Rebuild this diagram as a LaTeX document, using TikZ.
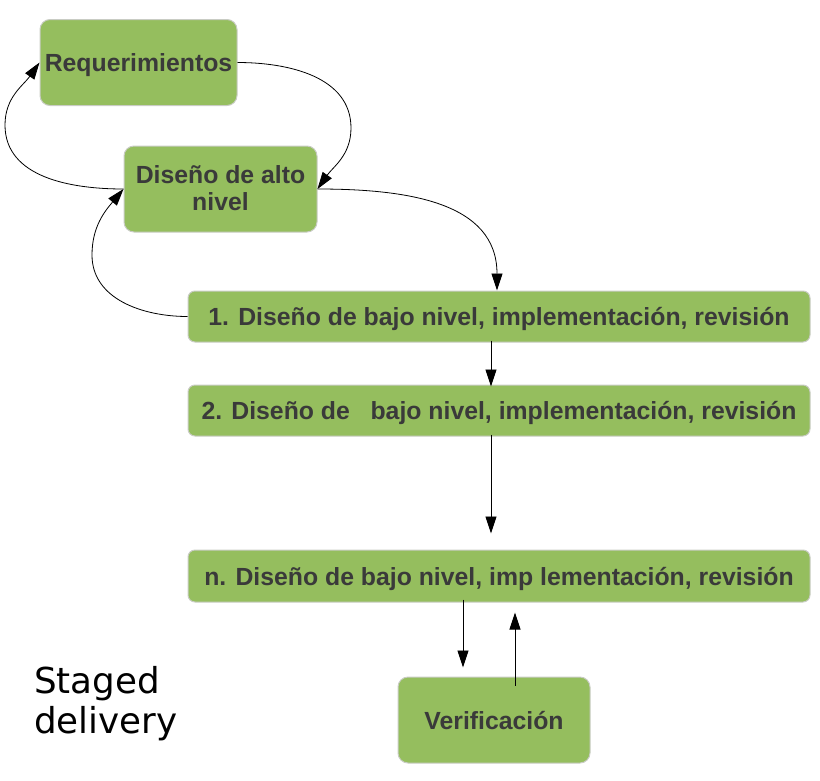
\documentclass[tikz,border=0pt]{standalone}
\usepackage{fontspec}
\setmainfont{Liberation Sans}
\newfontfamily\dejavu{DejaVu Sans}
\usetikzlibrary{arrows.meta}
\definecolor{boxgreen}{HTML}{95BE5E}
\definecolor{boxedge}{HTML}{C9CCC4}
\definecolor{boxtext}{HTML}{3A3A3A}
\tikzset{
  gbox/.style={draw=boxedge, line width=1pt, fill=boxgreen, rounded corners=10pt,
    text=boxtext, font=\fontsize{24.8}{27.4}\selectfont\bfseries, align=center, inner sep=0pt,
    text height=18pt, text depth=0pt},
  arr/.style={draw=black, line width=0.8pt, -{Triangle[length=17pt,width=11pt]}},
}
\begin{document}
\begin{tikzpicture}[x=1pt,y=-1pt]
\useasboundingbox (0,0) rectangle (820,780);
\node[gbox, minimum width=197pt, minimum height=86pt] (req) at (138.5,62.5) {Requerimientos};
\node[gbox, minimum width=193pt, minimum height=86pt, text height=43.4pt] (alto) at (220.5,189) {Diseño de alto\\nivel};
\node[gbox, minimum width=622pt, minimum height=51pt, rounded corners=7pt] (b1) at (499,316.5) {1. Diseño de bajo nivel, implementación, revisión};
\node[gbox, minimum width=622pt, minimum height=51pt, rounded corners=7pt] (b2) at (499,410.5) {2. Diseño de\ \ \ bajo nivel, implementación, revisión};
\node[gbox, minimum width=622pt, minimum height=52pt, rounded corners=7pt] (bn) at (499,576) {n. Diseño de bajo nivel, imp lementación, revisión};
\node[gbox, minimum width=192pt, minimum height=86pt] (ver) at (494,720) {Verificación};
\node[anchor=base west, align=left, inner sep=0pt, font=\dejavu\fontsize{35.7}{40}\selectfont] (sd) at (34,733) {Staged\\delivery};

\coordinate (w1) at (351,128);
\coordinate (w2) at (5,125);
\coordinate (w3) at (92,255);
\draw[arr] (req.east) to[out=0,in=90] (w1) to[out=-90,in=55] (alto.east);
\draw[arr] (alto.west) to[out=180,in=-90] (w2) to[out=90,in=235] (req.west);
\draw[arr] (alto.east) to[out=0,in=90,looseness=1.1] ([xshift=-2pt]b1.north);
\draw[arr] (b1.west) to[out=180,in=-90] (w3) to[out=90,in=230] (alto.west);
\draw[arr] ([xshift=-8pt,yshift=2pt]b1.south) -- ([xshift=-8pt,yshift=-2pt]b2.north);
\draw[arr, shorten >=16pt] ([xshift=-8pt,yshift=2pt]b2.south) -- ([xshift=-8pt]bn.north);
\draw[arr, shorten >=9pt] ([xshift=-36pt,yshift=3pt]bn.south) -- ([xshift=-31pt]ver.north);
\draw[arr, shorten >=10pt] ([xshift=21pt,yshift=-9pt]ver.north) -- ([xshift=16pt]bn.south);
\end{tikzpicture}
\end{document}
